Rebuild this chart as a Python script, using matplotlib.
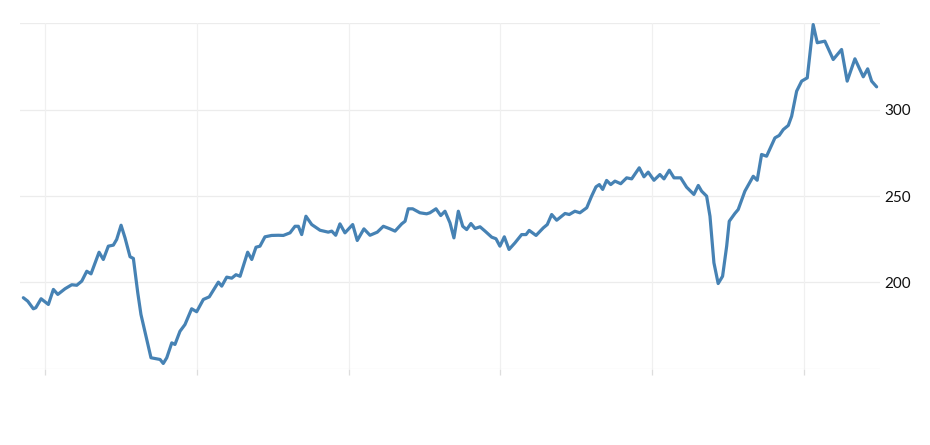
import matplotlib
matplotlib.use('Agg')
import matplotlib.pyplot as plt

# 時系列データ（小数年, 値）
dates = [
    2018.857, 2018.886, 2018.923, 2018.939, 2018.974, 2019.022, 2019.055, 2019.084,
    2019.132, 2019.176, 2019.209, 2019.242, 2019.275, 2019.303, 2019.356, 2019.384,
    2019.417, 2019.450, 2019.472, 2019.501, 2019.527, 2019.560, 2019.582, 2019.611,
    2019.632, 2019.670, 2019.698, 2019.736, 2019.758, 2019.779, 2019.802, 2019.835,
    2019.856, 2019.889, 2019.922, 2019.966, 2019.999, 2020.043, 2020.082, 2020.142,
    2020.164, 2020.197, 2020.230, 2020.258, 2020.285, 2020.335, 2020.362, 2020.390,
    2020.416, 2020.449, 2020.493, 2020.537, 2020.570, 2020.614, 2020.647, 2020.669,
    2020.691, 2020.719, 2020.757, 2020.812, 2020.866, 2020.889, 2020.915, 2020.943,
    2020.976, 2021.027, 2021.057, 2021.101, 2021.141, 2021.189, 2021.229, 2021.273,
    2021.306, 2021.350, 2021.372, 2021.393, 2021.422, 2021.470, 2021.514, 2021.536,
    2021.576, 2021.607, 2021.635, 2021.668, 2021.694, 2021.723, 2021.752, 2021.778,
    2021.806, 2021.833, 2021.866, 2021.899, 2021.943, 2021.971, 2021.997, 2022.026,
    2022.057, 2022.096, 2022.140, 2022.169, 2022.190, 2022.235, 2022.283, 2022.309,
    2022.338, 2022.371, 2022.426, 2022.454, 2022.491, 2022.524, 2022.569, 2022.601,
    2022.630, 2022.652, 2022.674, 2022.700, 2022.727, 2022.755, 2022.793, 2022.832,
    2022.865, 2022.915, 2022.946, 2022.974, 2023.012, 2023.051, 2023.078, 2023.113,
    2023.144, 2023.188, 2023.227, 2023.275, 2023.304, 2023.326, 2023.359, 2023.381,
    2023.407, 2023.435, 2023.464, 2023.491, 2023.508, 2023.545, 2023.567, 2023.611,
    2023.666, 2023.692, 2023.721, 2023.754, 2023.809, 2023.837, 2023.864, 2023.897,
    2023.919, 2023.952, 2023.985, 2024.022, 2024.061, 2024.088, 2024.138, 2024.193,
    2024.248, 2024.285, 2024.336, 2024.391, 2024.420, 2024.446, 2024.479,
]
values = [
    191.2, 189.2, 184.8, 185.4, 190.6, 187.3, 196.0, 193.1,
    196.4, 198.7, 198.4, 200.8, 206.5, 205.0, 217.5, 213.3,
    221.0, 221.6, 224.9, 233.1, 225.8, 214.9, 213.9, 194.0,
    181.5, 167.1, 156.5, 155.9, 155.5, 153.2, 156.5, 165.1,
    164.2, 171.8, 175.7, 184.8, 183.1, 190.2, 191.7, 200.2,
    197.9, 203.1, 202.5, 204.5, 203.6, 217.5, 213.3, 220.4,
    221.0, 226.4, 227.2, 227.3, 227.2, 228.7, 232.5, 232.5,
    227.7, 238.3, 233.5, 230.2, 229.1, 229.7, 227.3, 233.9,
    228.7, 233.5, 224.3, 231.0, 227.3, 229.1, 232.5, 231.0,
    229.7, 233.9, 235.4, 242.6, 242.6, 240.3, 239.7, 240.3,
    242.6, 238.7, 241.2, 234.5, 225.8, 241.2, 232.5, 230.6,
    234.1, 231.2, 232.2, 229.7, 226.2, 225.3, 221.0, 226.4,
    219.1, 222.9, 227.7, 227.7, 230.1, 227.2, 231.6, 233.5,
    239.3, 236.0, 239.9, 239.3, 241.2, 240.3, 243.2, 249.9,
    255.3, 256.6, 253.8, 259.0, 256.6, 258.6, 257.1, 260.5,
    259.9, 266.3, 261.1, 263.8, 259.1, 262.4, 259.9, 264.9,
    260.5, 260.5, 255.1, 250.9, 256.1, 252.8, 249.9, 238.3,
    211.4, 199.4, 203.6, 221.0, 235.4, 239.9, 242.2, 252.8,
    261.4, 259.1, 274.0, 273.0, 283.6, 285.0, 288.4, 290.8,
    296.1, 310.6, 316.4, 318.3, 349.1, 338.6, 339.5, 328.9,
    334.7, 316.4, 329.3, 318.9, 323.5, 316.4, 313.1,
]

year_ticks = [2019, 2020, 2021, 2022, 2023, 2024]
y_grid = [150, 200, 250, 300, 350]
y_labels = [200, 250, 300]

fig = plt.figure(figsize=(9.3, 4.45), dpi=100)
ax = fig.add_axes([0.0215, 0.1708, 0.9247, 0.7775])

# グリッド
for g in y_grid:
    ax.axhline(g, color='#ececec', linewidth=0.9, zorder=0)
for yr in year_ticks:
    ax.axvline(yr, color='#f0f0f0', linewidth=0.9, zorder=0)

ax.plot(dates, values, color='#4682b4', linewidth=2.3,
        solid_joinstyle='round', solid_capstyle='round', zorder=3)

ax.set_xlim(2018.835, 2024.501)
ax.set_ylim(150, 350)

for s in ax.spines.values():
    s.set_visible(False)

ax.set_xticks(year_ticks)
ax.set_xticklabels([])
ax.tick_params(axis='x', length=4, color='#dddddd', width=0.9)

ax.yaxis.tick_right()
ax.set_yticks(y_labels)
ax.set_yticklabels([str(v) for v in y_labels], fontsize=11, family=['Lato', 'DejaVu Sans'])
ax.tick_params(axis='y', length=0, pad=3, labelcolor='#111111')

fig.savefig('out.png', dpi=100)
